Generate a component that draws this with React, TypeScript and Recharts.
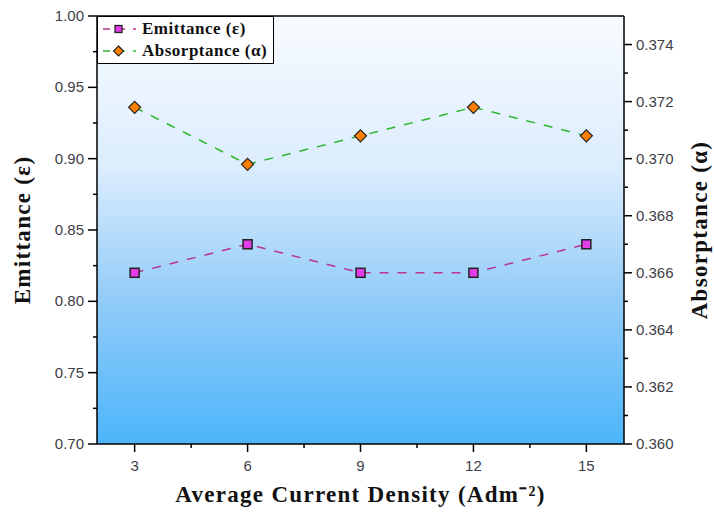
import {
  ComposedChart,
  Line,
  XAxis,
  YAxis,
  CartesianGrid,
  ReferenceLine,
  Legend,
} from "recharts";

const densities = [3, 6, 9, 12, 15];
const emittance = [0.82, 0.84, 0.82, 0.82, 0.84];
const absorptance = [0.3718, 0.3698, 0.3708, 0.3718, 0.3708];

const xMajor = [3, 6, 9, 12, 15];
const xMinor = [4.5, 7.5, 10.5, 13.5];
const leftMajor = [0.7, 0.75, 0.8, 0.85, 0.9, 0.95, 1.0];
const leftMinor = [0.725, 0.775, 0.825, 0.875, 0.925, 0.975];
const rightMajor = [0.36, 0.362, 0.364, 0.366, 0.368, 0.37, 0.372, 0.374];
const rightMinor = [0.361, 0.363, 0.365, 0.367, 0.369, 0.371, 0.373];

const data = densities.map((d, i) => ({
  density: d,
  emittance: emittance[i],
  absorptance: absorptance[i],
}));

const EMIT_LINE = "#b8358f";
const EMIT_FILL = "#e23ce6";
const ABS_LINE = "#2fb52f";
const ABS_FILL = "#ff7f00";
const TICK_COLOR = "#404048";
const TICK_FONT = "'Liberation Sans', Arial, sans-serif";
const TITLE_FONT = "'Liberation Serif', 'Times New Roman', serif";

const titleStyle = {
  textAnchor: "middle" as const,
  fontFamily: TITLE_FONT,
  fontWeight: "bold",
  fontSize: 23,
  letterSpacing: 1.3,
  fill: "#111",
};

const isIn = (arr: number[], v: number) => arr.some((a) => Math.abs(a - v) < 1e-9);

function XTick(props: any) {
  const { x, y, payload } = props;
  const major = isIn(xMajor, payload.value);
  return (
    <g>
      <line x1={x} x2={x} y1={y} y2={y + (major ? 8 : 4)} stroke="#000" strokeWidth={1.5} />
      {major && (
        <text x={x} y={y + 27} textAnchor="middle" fontSize={15} fontFamily={TICK_FONT} fill={TICK_COLOR}>
          {payload.value}
        </text>
      )}
    </g>
  );
}

function LeftTick(props: any) {
  const { x, y, payload } = props;
  const major = isIn(leftMajor, payload.value);
  return (
    <g>
      <line x1={x} x2={x - (major ? 9 : 4)} y1={y} y2={y} stroke="#000" strokeWidth={1.5} />
      {major && (
        <text x={x - 13} y={y + 5} textAnchor="end" fontSize={15} fontFamily={TICK_FONT} fill={TICK_COLOR}>
          {payload.value.toFixed(2)}
        </text>
      )}
    </g>
  );
}

function RightTick(props: any) {
  const { x, y, payload } = props;
  const major = isIn(rightMajor, payload.value);
  return (
    <g>
      <line x1={x} x2={x + (major ? 8 : 4)} y1={y} y2={y} stroke="#000" strokeWidth={1.5} />
      {major && (
        <text x={x + 12} y={y + 5} textAnchor="start" fontSize={15} fontFamily={TICK_FONT} fill={TICK_COLOR}>
          {payload.value.toFixed(3)}
        </text>
      )}
    </g>
  );
}

function SquareDot(props: any) {
  const { cx, cy, index } = props;
  return (
    <rect key={`sq-${index}`} x={cx - 4.5} y={cy - 4.5} width={9} height={9} fill={EMIT_FILL} stroke="#222" strokeWidth={1.5} />
  );
}

function DiamondDot(props: any) {
  const { cx, cy, index } = props;
  const r = 6;
  return (
    <path
      key={`dm-${index}`}
      d={`M${cx},${cy - r} L${cx + r},${cy} L${cx},${cy + r} L${cx - r},${cy} Z`}
      fill={ABS_FILL}
      stroke="#222"
      strokeWidth={1.2}
    />
  );
}

function LegendBox() {
  const rows = [
    { label: "Emittance (ε)", color: EMIT_LINE, marker: "square" },
    { label: "Absorptance (α)", color: ABS_LINE, marker: "diamond" },
  ];
  return (
    <div
      style={{
        width: 177,
        height: 48,
        boxSizing: "border-box",
        border: "1.5px solid #000",
        background: "#fff",
        paddingTop: 1,
      }}
    >
      {rows.map((r) => (
        <div key={r.label} style={{ display: "flex", alignItems: "center", height: 22 }}>
          <svg width={42} height={14} style={{ marginLeft: 2 }}>
            <line x1={2} x2={36} y1={7} y2={7} stroke={r.color} strokeWidth={1.5} strokeDasharray="7 8" strokeDashoffset={-1} />
            {r.marker === "square" ? (
              <rect x={15} y={3.5} width={7} height={7} fill={EMIT_FILL} stroke="#222" strokeWidth={1.3} />
            ) : (
              <path d="M18.5,2 L23.5,7 L18.5,12 L13.5,7 Z" fill={ABS_FILL} stroke="#222" strokeWidth={1.1} />
            )}
          </svg>
          <span style={{ fontFamily: TITLE_FONT, fontWeight: "bold", fontSize: 17, color: "#111", letterSpacing: 0.5 }}>
            {r.label}
          </span>
        </div>
      ))}
    </div>
  );
}

export default function App() {
  return (
    <div style={{ position: "absolute", left: 0, top: 0 }}>
      <ComposedChart width={714} height={522} data={data} margin={{ top: 16, right: 0, bottom: 0, left: 0 }}>
        <defs>
          <linearGradient id="plotBg" x1="0" y1="0" x2="0" y2="1">
            <stop offset="0%" stopColor="#f8fbff" />
            <stop offset="35%" stopColor="#dcedfd" />
            <stop offset="65%" stopColor="#95cdf9" />
            <stop offset="100%" stopColor="#4cb5fa" />
          </linearGradient>
        </defs>
        <CartesianGrid horizontal={false} vertical={false} fill="url(#plotBg)" yAxisId="left" />
        <XAxis
          dataKey="density"
          type="number"
          domain={[2, 16]}
          ticks={[...xMajor, ...xMinor].sort((a, b) => a - b)}
          interval={0}
          height={78}
          tickSize={0}
          tickMargin={0}
          tick={<XTick />}
          axisLine={{ stroke: "#000", strokeWidth: 1.5 }}
          label={{
            value: "Average Current Density (Adm⁻²)",
            position: "insideBottom",
            offset: 20,
            style: titleStyle,
          }}
        />
        <YAxis
          yAxisId="left"
          domain={[0.7, 1.0]}
          ticks={[...leftMajor, ...leftMinor].sort((a, b) => a - b)}
          interval={0}
          width={97}
          tickSize={0}
          tickMargin={0}
          tick={<LeftTick />}
          axisLine={{ stroke: "#000", strokeWidth: 1.5 }}
          label={{
            value: "Emittance (ε)",
            angle: -90,
            position: "insideLeft",
            offset: 22,
            style: titleStyle,
          }}
        />
        <YAxis
          yAxisId="right"
          orientation="right"
          domain={[0.36, 0.375]}
          ticks={[...rightMajor, ...rightMinor].sort((a, b) => a - b)}
          interval={0}
          width={90}
          tickSize={0}
          tickMargin={0}
          tick={<RightTick />}
          axisLine={{ stroke: "#000", strokeWidth: 1.5 }}
          label={{
            value: "Absorptance (α)",
            angle: -90,
            position: "insideRight",
            offset: 15,
            style: titleStyle,
          }}
        />
        <ReferenceLine yAxisId="left" y={1.0} stroke="#000" strokeWidth={1.5} />
        <Line
          yAxisId="left"
          type="linear"
          dataKey="emittance"
          stroke={EMIT_LINE}
          strokeWidth={1.5}
          strokeDasharray="9 9"
          dot={SquareDot}
          activeDot={false}
          isAnimationActive={false}
        />
        <Line
          yAxisId="right"
          type="linear"
          dataKey="absorptance"
          stroke={ABS_LINE}
          strokeWidth={1.5}
          strokeDasharray="9 9"
          dot={DiamondDot}
          activeDot={false}
          isAnimationActive={false}
        />
        <Legend
          layout="vertical"
          align="center"
          verticalAlign="middle"
          content={<LegendBox />}
          wrapperStyle={{ left: 97, top: 16, width: 177, height: 48 }}
        />
      </ComposedChart>
    </div>
  );
}
